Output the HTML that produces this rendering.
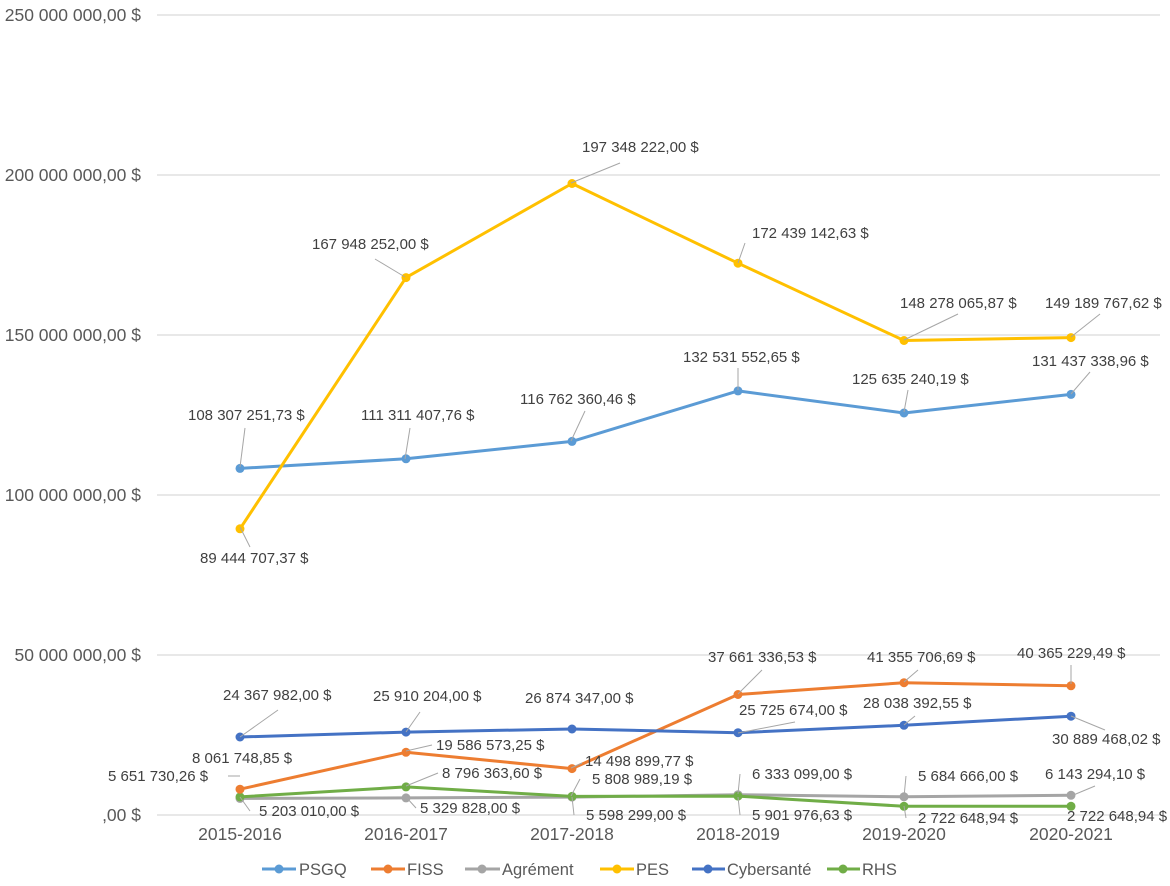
<!DOCTYPE html>
<html><head><meta charset="utf-8"><style>
body{margin:0;background:#fff;}
svg{display:block;font-family:"Liberation Sans",sans-serif;}
</style></head><body>
<svg id="c" width="1170" height="886" xmlns="http://www.w3.org/2000/svg">
<g stroke="#d9d9d9" stroke-width="1.3">
<line x1="157" y1="15" x2="1160" y2="15"/><line x1="157" y1="175" x2="1160" y2="175"/>
<line x1="157" y1="335" x2="1160" y2="335"/><line x1="157" y1="495" x2="1160" y2="495"/>
<line x1="157" y1="655" x2="1160" y2="655"/><line x1="157" y1="815" x2="1160" y2="815"/>
</g>
<g fill="#595959" font-size="17.5" text-anchor="end">
<text x="141" y="21">250 000 000,00 $</text>
<text x="141" y="181">200 000 000,00 $</text>
<text x="141" y="341">150 000 000,00 $</text>
<text x="141" y="501">100 000 000,00 $</text>
<text x="141" y="661">50 000 000,00 $</text>
<text x="141" y="821">,00 $</text>
</g>
<g fill="#595959" font-size="17.5" text-anchor="middle">
<text x="240" y="840">2015-2016</text><text x="406" y="840">2016-2017</text>
<text x="572" y="840">2017-2018</text><text x="738" y="840">2018-2019</text>
<text x="904" y="840">2019-2020</text><text x="1071" y="840">2020-2021</text>
</g>
<g id="series"></g>
<g id="labels" fill="#404040" font-size="15"></g>
<g font-size="16.5" fill="#595959">
<line x1="262" y1="869" x2="296" y2="869" stroke="#5B9BD5" stroke-width="3"/><circle cx="279" cy="869" r="4.5" fill="#5B9BD5"/><text x="299" y="875">PSGQ</text>
<line x1="371" y1="869" x2="405" y2="869" stroke="#ED7D31" stroke-width="3"/><circle cx="388" cy="869" r="4.5" fill="#ED7D31"/><text x="407" y="875">FISS</text>
<line x1="465" y1="869" x2="500" y2="869" stroke="#A5A5A5" stroke-width="3"/><circle cx="482" cy="869" r="4.5" fill="#A5A5A5"/><text x="502" y="875">Agrément</text>
<line x1="600" y1="869" x2="634" y2="869" stroke="#FFC000" stroke-width="3"/><circle cx="617" cy="869" r="4.5" fill="#FFC000"/><text x="636" y="875">PES</text>
<line x1="692" y1="869" x2="725" y2="869" stroke="#4472C4" stroke-width="3"/><circle cx="708" cy="869" r="4.5" fill="#4472C4"/><text x="727" y="875">Cybersanté</text>
<line x1="827" y1="869" x2="860" y2="869" stroke="#70AD47" stroke-width="3"/><circle cx="843" cy="869" r="4.5" fill="#70AD47"/><text x="862" y="875">RHS</text>
</g>
</svg>
<script>
var xs=[240,406,572,738,904,1071];
function Y(v){return 815-v*3.2;}
var S=[
["#A5A5A5",[5.203,5.330,5.598,6.333,5.685,6.143]],
["#70AD47",[5.652,8.796,5.809,5.902,2.723,2.723]],
["#ED7D31",[8.062,19.587,14.499,37.661,41.356,40.365]],
["#4472C4",[24.368,25.910,26.874,25.726,28.038,30.889]],
["#5B9BD5",[108.307,111.311,116.762,132.532,125.635,131.437]],
["#FFC000",[89.445,167.948,197.348,172.439,148.278,149.190]]];
var g=document.getElementById("series"),h="";
S.forEach(function(s){var p=s[1].map(function(v,i){return xs[i]+","+Y(v).toFixed(1)}).join(" ");
h+='<polyline points="'+p+'" fill="none" stroke="'+s[0]+'" stroke-width="3" stroke-linejoin="round"/>';
s[1].forEach(function(v,i){h+='<circle cx="'+xs[i]+'" cy="'+Y(v).toFixed(1)+'" r="4.5" fill="'+s[0]+'"/>';});});
g.innerHTML=h;
var L=[
["89 444 707,37 $",200,563,[240,527,250,547]],
["167 948 252,00 $",312,249,[405,277,375,259]],
["197 348 222,00 $",582,152,[571,183,620,163]],
["172 439 142,63 $",752,238,[738,263,745,243]],
["148 278 065,87 $",900,308,[904,340,958,314]],
["149 189 767,62 $",1045,308,[1071,337,1100,314]],
["108 307 251,73 $",188,420,[240,467,245,428]],
["111 311 407,76 $",361,420,[405,459,410,428]],
["116 762 360,46 $",520,404,[571,441,585,411]],
["132 531 552,65 $",683,362,[738,390,738,368]],
["125 635 240,19 $",852,384,[904,412,908,390]],
["131 437 338,96 $",1032,366,[1071,394,1090,372]],
["24 367 982,00 $",223,700,[240,737,278,710]],
["25 910 204,00 $",373,701,[406,732,420,712]],
["26 874 347,00 $",525,703,null],
["25 725 674,00 $",739,715,[738,733,795,722]],
["28 038 392,55 $",863,708,[904,725,915,716]],
["30 889 468,02 $",1052,744,[1071,716,1105,730]],
["8 061 748,85 $",192,763,null],
["5 651 730,26 $",108,781,[228,776,240,776]],
["19 586 573,25 $",436,750,[406,751,432,745]],
["14 498 899,77 $",585,766,[571,768,582,763]],
["37 661 336,53 $",708,662,[738,694,762,670]],
["41 355 706,69 $",867,662,[904,682,918,670]],
["40 365 229,49 $",1017,658,[1071,684,1071,665]],
["8 796 363,60 $",442,778,[406,786,438,773]],
["5 808 989,19 $",592,784,[571,796,580,779]],
["6 333 099,00 $",752,779,[738,794,740,774]],
["5 684 666,00 $",918,781,[904,797,906,776]],
["6 143 294,10 $",1045,779,[1071,796,1095,786]],
["5 203 010,00 $",259,816,[240,797,250,811]],
["5 329 828,00 $",420,813,[406,797,416,808]],
["5 598 299,00 $",586,820,[572,797,574,815]],
["5 901 976,63 $",752,820,[738,797,740,815]],
["2 722 648,94 $",918,823,[904,806,906,818]],
["2 722 648,94 $",1067,821,null]];
var lh="";
L.forEach(function(l){if(l[3])lh+='<line x1="'+l[3][0]+'" y1="'+l[3][1]+'" x2="'+l[3][2]+'" y2="'+l[3][3]+'" stroke="#a6a6a6" stroke-width="1"/>';
lh+='<text x="'+l[1]+'" y="'+l[2]+'">'+l[0]+'</text>';});
document.getElementById("labels").innerHTML=lh;
</script>
</body></html>
